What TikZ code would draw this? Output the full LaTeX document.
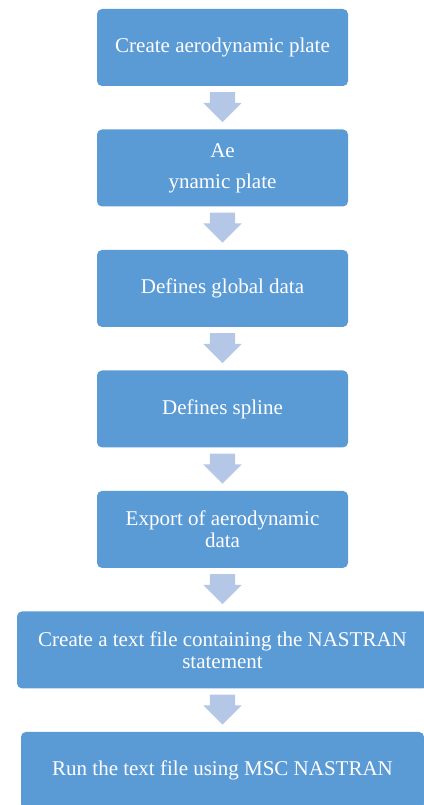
\documentclass[tikz,border=0pt]{standalone}
\usepackage{fontspec}
\setmainfont{Liberation Serif}
\usetikzlibrary{positioning,shapes.arrows}
\definecolor{boxblue}{HTML}{5B9BD5}
\definecolor{arrowblue}{HTML}{B4C7E7}
\tikzset{
  stepbox/.style={rectangle, rounded corners=5pt, fill=boxblue, text=white,
    minimum height=77pt, minimum width=251pt, inner sep=0pt, align=center,
    font=\fontsize{21}{22}\selectfont},
  downarrow/.style={single arrow, shape border rotate=270, fill=arrowblue,
    minimum height=30pt, single arrow head extend=6.5pt,
    inner xsep=12.5pt, inner ysep=0pt}
}
\begin{document}
\begin{tikzpicture}
\useasboundingbox (0,0) rectangle (423pt,-805pt);

%first blocks
\node[stepbox] (plate) at (222.5pt,-47.5pt) {Create aerodynamic plate};
\node[downarrow, below=5.8pt of plate, anchor=tail] (a1) {};
\node[stepbox, below=6.8pt of a1.tip] (aero) {Ae\\[9pt]ynamic plate};
\node[downarrow, below=5.8pt of aero, anchor=tail] (a2) {};
\node[stepbox, below=6.8pt of a2.tip] (global) {Defines global data};
\node[downarrow, below=5.8pt of global, anchor=tail] (a3) {};
\node[stepbox, below=6.8pt of a3.tip] (spline) {Defines spline};
\node[downarrow, below=5.8pt of spline, anchor=tail] (a4) {};
\node[stepbox, below=6.8pt of a4.tip] (export) {Export of aerodynamic\\data};

%wide blocks
\node[downarrow, below=5.8pt of export, anchor=tail] (a5) {};
\node[stepbox, minimum width=411pt, below=6.8pt of a5.tip] (text) {Create a text file containing the NASTRAN\\statement};
\node[downarrow, below=5.8pt of text, anchor=tail] (a6) {};
\node[stepbox, minimum width=403pt, below=6.8pt of a6.tip] (run) {Run the text file using MSC NASTRAN};

\end{tikzpicture}
\end{document}
